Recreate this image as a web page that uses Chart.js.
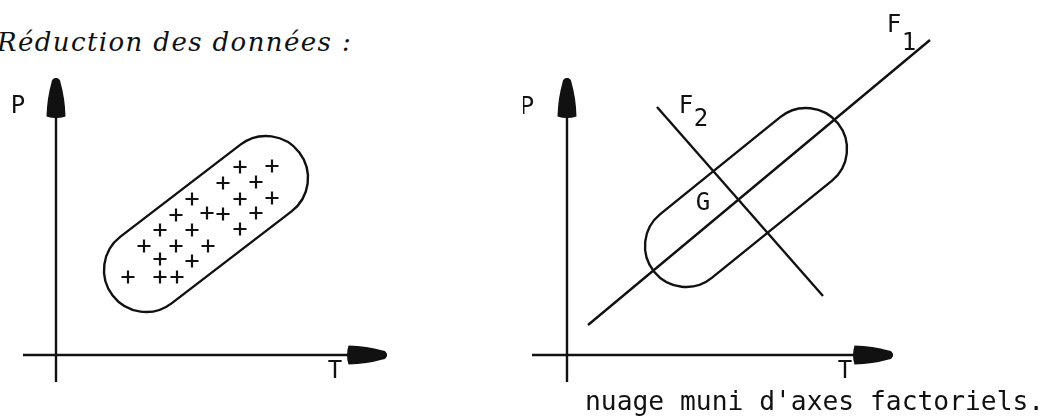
<!DOCTYPE html>
<html lang="fr">
<head>
<meta charset="utf-8">
<title>Réduction des données</title>
<script src="https://cdn.jsdelivr.net/npm/chart.js@4.4.1/dist/chart.umd.min.js"></script>
<style>
  html, body { margin: 0; padding: 0; background: #fff; }
  body { width: 1046px; height: 417px; position: relative; overflow: hidden; }
  canvas { position: absolute; top: 0; }
  #gauche { left: 0; }
  #droite { left: 523px; }
  .titre {
    position: absolute; left: -3px; top: 29px;
    font: italic 26px "DejaVu Serif"; line-height: 26px;
    letter-spacing: 1.4px; color: #111; white-space: nowrap;
  }
  .legende {
    position: absolute; left: 585px; top: 388px;
    font: 26.3px "DejaVu Sans Mono"; line-height: 26px;
    color: #111; white-space: nowrap;
  }
</style>
</head>
<body>
<div class="titre">Réduction des données :</div>
<canvas id="gauche" width="523" height="417"></canvas>
<canvas id="droite" width="523" height="417"></canvas>
<div class="legende">nuage muni d'axes factoriels.</div>

<script>
// Unités : origine au croisement des axes T et P de chaque panneau

// Panneau gauche : nuage de points
const nuageT = [184, 216, 167, 200, 136, 184, 216, 120, 151, 167, 200, 104, 136, 184, 88, 120, 152, 104, 136, 72, 104, 121];
const nuageP = [188, 189, 172, 173, 156, 156, 157, 140, 142, 141, 142, 125, 125, 126, 109, 109, 109, 96, 94, 78, 78, 78];

// Axes (début, fin = pointe de la flèche)
const axePgauche = [[0, -27], [0, 277]];
const axeTgauche = [[-33, 0], [331, 0]];
const axePdroite = [[0, -27], [0, 277]];
const axeTdroite = [[-35, 0], [326, 0]];

// Axes factoriels du panneau droit
const axeF1 = [[21, 30], [363, 315]];
const axeF2 = [[90, 248], [256, 59]];

// Enveloppes du nuage : centre bas, centre haut, rayon
const enveloppeGauche = [[90, 85], [210, 177], 42];
const enveloppeDroite = [[119, 109], [239, 206], 41];

// Libellés (texte, T, P)
const libellesGauche = [['P', -38, 251], ['T', 279, -14]];
const libellesDroite = [['P', -40, 250], ['T', 278, -14], ['F', 327, 332], ['1', 342, 314],
                        ['F', 119, 251], ['2', 134, 238], ['G', 136, 154]];

const ENCRE = '#111';

function toPoints(arr) {
    return arr.map(p => ({ x: p[0], y: p[1] }));
}

function trait(arr, fleche) {
    return {
        data: toPoints(arr),
        showLine: true,
        borderColor: ENCRE,
        borderWidth: 2.4,
        pointRadius: 0,
        fill: false,
        arrow: fleche
    };
}

// Plugin : flèches, enveloppe et libellés
const dessinPlugin = {
    id: 'dessin',
    afterDatasetsDraw(chart, args, opts) {
        const ctx = chart.ctx;
        const sx = chart.scales.x;
        const sy = chart.scales.y;
        ctx.save();
        ctx.fillStyle = ENCRE;
        ctx.strokeStyle = ENCRE;

        // pointes de flèche en forme d'obus
        chart.data.datasets.forEach((ds, i) => {
            if (!ds.arrow) return;
            const pts = chart.getDatasetMeta(i).data;
            const a = pts[pts.length - 2], b = pts[pts.length - 1];
            const ang = Math.atan2(b.y - a.y, b.x - a.x);
            const L = 40, w = 19, rb = 4.5;
            ctx.save();
            ctx.translate(b.x, b.y);
            ctx.rotate(ang);
            ctx.translate(-L, 0);
            ctx.beginPath();
            ctx.moveTo(1.5, -w / 2);
            ctx.quadraticCurveTo(L * 0.5, -w / 2 + 0.5, L - rb, -rb);
            ctx.arc(L - rb, 0, rb, -Math.PI / 2, Math.PI / 2);
            ctx.quadraticCurveTo(L * 0.5, w / 2 - 0.5, 1.5, w / 2);
            ctx.quadraticCurveTo(-1.5, 0, 1.5, -w / 2);
            ctx.closePath();
            ctx.fill();
            ctx.restore();
        });

        // enveloppe
        const env = opts.enveloppe;
        if (env) {
            const p1 = { x: sx.getPixelForValue(env[0][0]), y: sy.getPixelForValue(env[0][1]) };
            const p2 = { x: sx.getPixelForValue(env[1][0]), y: sy.getPixelForValue(env[1][1]) };
            const r = Math.abs(sx.getPixelForValue(env[2]) - sx.getPixelForValue(0));
            const ang = Math.atan2(p2.y - p1.y, p2.x - p1.x);
            ctx.lineWidth = 2.4;
            ctx.beginPath();
            ctx.arc(p2.x, p2.y, r, ang - Math.PI / 2, ang + Math.PI / 2);
            ctx.arc(p1.x, p1.y, r, ang + Math.PI / 2, ang + 3 * Math.PI / 2);
            ctx.closePath();
            ctx.stroke();
        }

        // libellés
        const taille = 24;
        ctx.font = taille + 'px "DejaVu Sans Mono"';
        ctx.textAlign = 'center';
        ctx.textBaseline = 'alphabetic';
        (opts.libelles || []).forEach(l => {
            ctx.fillText(l[0], sx.getPixelForValue(l[1]), sy.getPixelForValue(l[2]) + taille * 0.365);
        });
        ctx.restore();
    }
};

function panneau(id, xmin, datasets, enveloppe, libelles) {
    const largeur = 523, hauteur = 417, origineY = 355;
    return new Chart(document.getElementById(id), {
        type: 'scatter',
        data: { datasets: datasets },
        options: {
            responsive: false,
            animation: false,
            devicePixelRatio: 1,
            events: [],
            layout: { padding: 0, autoPadding: false },
            scales: {
                x: { type: 'linear', display: false, min: xmin, max: xmin + largeur },
                y: { type: 'linear', display: false, min: origineY - hauteur, max: origineY }
            },
            plugins: {
                legend: { display: false },
                tooltip: { enabled: false },
                dessin: { enveloppe: enveloppe, libelles: libelles }
            }
        },
        plugins: [dessinPlugin]
    });
}

document.addEventListener('DOMContentLoaded', function() {
    const nuage = {
        data: nuageT.map((t, i) => ({ x: t, y: nuageP[i] })),
        pointStyle: 'cross',
        pointRadius: 6.5,
        borderColor: ENCRE,
        borderWidth: 2.2,
        showLine: false
    };

    panneau('gauche', -56,
        [trait(axePgauche, true), trait(axeTgauche, true), nuage],
        enveloppeGauche, libellesGauche);

    panneau('droite', -44,
        [trait(axePdroite, true), trait(axeTdroite, true), trait(axeF1, false), trait(axeF2, false)],
        enveloppeDroite, libellesDroite);
});
</script>
</body>
</html>
